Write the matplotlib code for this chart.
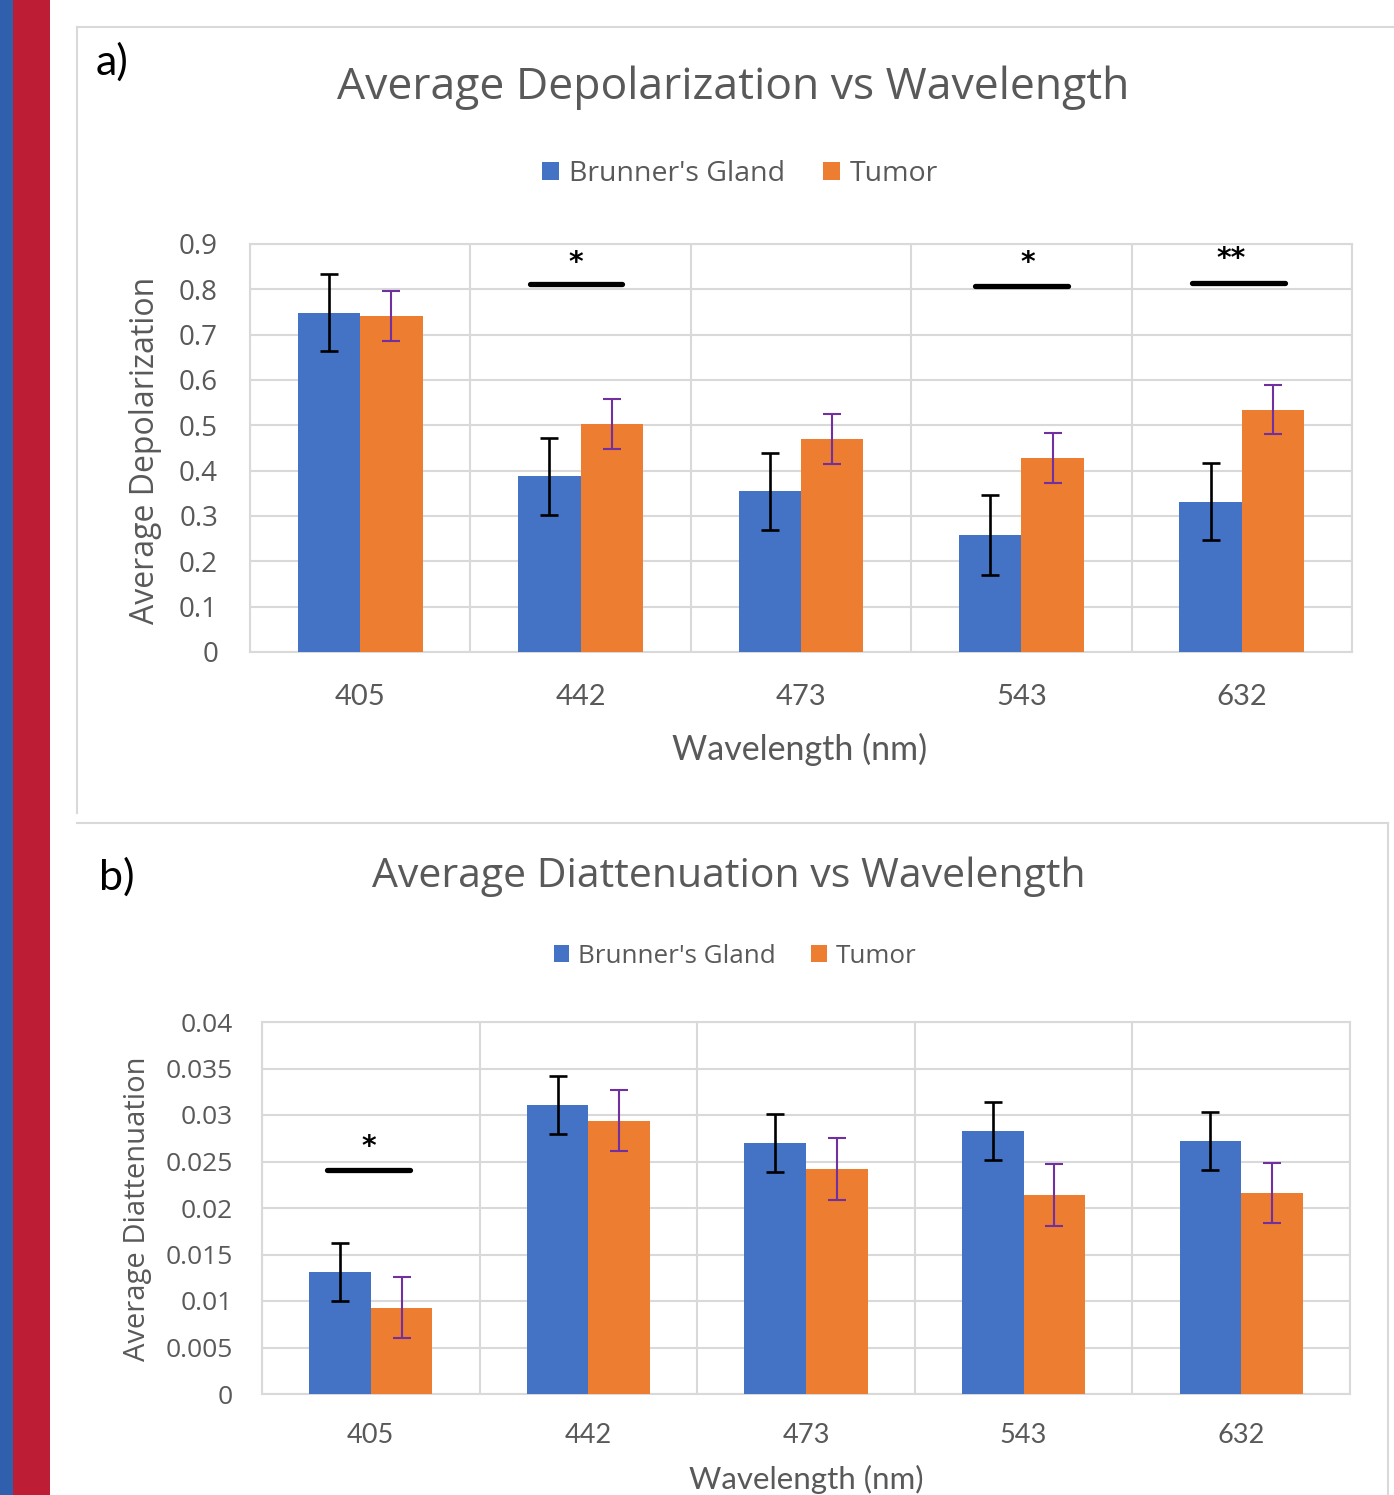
import matplotlib
matplotlib.use("Agg")
import matplotlib.pyplot as plt
import numpy as np
from matplotlib.patches import Rectangle, Patch
from matplotlib.lines import Line2D
from matplotlib.textpath import TextPath
from matplotlib.font_manager import FontProperties
from matplotlib.transforms import ScaledTranslation

# ---------------- data ----------------
wavelengths = ['405', '442', '473', '543', '632']
series_names = ["Brunner's Gland", "Tumor"]

depol_gland = [0.748, 0.388, 0.355, 0.258, 0.331]
depol_gland_err = [0.085, 0.085, 0.085, 0.088, 0.085]
depol_tumor = [0.741, 0.503, 0.470, 0.428, 0.534]
depol_tumor_err = [0.055, 0.055, 0.056, 0.055, 0.054]

diatt_gland = [0.0131, 0.0311, 0.0270, 0.0283, 0.0272]
diatt_gland_err = [0.0031, 0.0031, 0.0031, 0.0031, 0.0031]
diatt_tumor = [0.0093, 0.0294, 0.0242, 0.0214, 0.0216]
diatt_tumor_err = [0.0033, 0.0033, 0.0033, 0.0033, 0.0032]

# significance markers: bracket centre (category units), bracket height, label, label height
depol_sig_x = [0.98, 3.0, 3.985]
depol_sig_y = [0.812, 0.807, 0.814]
depol_sig_labels = ['*', '*', '**']
depol_star_x = [0.98, 3.03, 3.95]
depol_star_y = [0.871, 0.871, 0.880]

diatt_sig_x = [-0.01]
diatt_sig_y = [0.0241]
diatt_sig_labels = ['*']
diatt_star_x = [-0.01]
diatt_star_y = [0.0272]

depol_yticks = [0, 0.1, 0.2, 0.3, 0.4, 0.5, 0.6, 0.7, 0.8, 0.9]
depol_yticklabels = ['0', '0.1', '0.2', '0.3', '0.4', '0.5', '0.6', '0.7', '0.8', '0.9']
diatt_yticks = [0, 0.005, 0.01, 0.015, 0.02, 0.025, 0.03, 0.035, 0.04]
diatt_yticklabels = ['0', '0.005', '0.01', '0.015', '0.02', '0.025', '0.03', '0.035', '0.04']

# ---------------- style ----------------
W, H = 1394, 1495
BLUE = '#4472C4'
ORANGE = '#ED7D31'
PURPLE = '#7030A0'
GREY_TXT = '#595959'
GRID = '#D9D9D9'
plt.rcParams['font.family'] = ['Open Sans', 'DejaVu Sans']
STAR_FONT = FontProperties(family='DejaVu Sans', weight='bold')


def fx(x):
    return x / W


def fy(y):
    return 1 - y / H


fig = plt.figure(figsize=(W / 100, H / 100), dpi=100)
fig.patch.set_facecolor('white')

# left decorative stripes
fig.add_artist(Rectangle((0, 0), fx(13), 1, transform=fig.transFigure,
                         facecolor='#2F5FAD', edgecolor='none'))
fig.add_artist(Rectangle((fx(13), 0), fx(50) - fx(13), 1, transform=fig.transFigure,
                         facecolor='#BE1E35', edgecolor='none'))

# panel frames
frame_kw = dict(transform=fig.transFigure, color='#D9D9D9', lw=1.5)
fig.add_artist(Line2D([fx(77), fx(1394)], [fy(27), fy(27)], **frame_kw))
fig.add_artist(Line2D([fx(77), fx(77)], [fy(27), fy(813)], **frame_kw))
fig.add_artist(Line2D([fx(77), fx(1388)], [fy(823), fy(823)], **frame_kw))
fig.add_artist(Line2D([fx(1388), fx(1388)], [fy(823), fy(1495)], **frame_kw))


def star_text(ax, x, y, label, glyph_px=13):
    # size the asterisk so its glyph is glyph_px tall and centre it on (x, y)
    tp = TextPath((0, 0), '*', size=1, prop=STAR_FONT)
    ext = tp.get_extents()
    h_frac = ext.height
    fs = glyph_px * 72 / 100 / h_frac
    centre_pt = (ext.y0 + ext.height / 2) * fs
    tr = ax.transData + ScaledTranslation(0, -centre_pt / 72, fig.dpi_scale_trans)
    ax.text(x, y, label, transform=tr, ha='center', va='baseline', fontsize=fs,
            fontproperties=STAR_FONT, color='black', zorder=6)


def draw_panel(rect, gland, gerr, tumor, terr, yticks, yticklabels, ylim,
               sig_x, sig_y, sig_labels, star_x, star_y, sig_half,
               ytick_fs, xtick_fs, ypad, xpad):
    ax = fig.add_axes(rect)
    x = np.arange(len(wavelengths))
    w = 0.283
    ax.bar(x - w / 2, gland, w, color=BLUE, zorder=3)
    ax.bar(x + w / 2, tumor, w, color=ORANGE, zorder=3)
    ax.errorbar(x - w / 2, gland, yerr=gerr, fmt='none', ecolor='black',
                elinewidth=1.9, capsize=6.2, capthick=1.9, zorder=4)
    ax.errorbar(x + w / 2, tumor, yerr=terr, fmt='none', ecolor=PURPLE,
                elinewidth=1.5, capsize=6.2, capthick=1.5, zorder=4)
    for sx, sy, lab, tx, ty in zip(sig_x, sig_y, sig_labels, star_x, star_y):
        ax.plot([sx - sig_half, sx + sig_half], [sy, sy], color='black', lw=3.8,
                solid_capstyle='round', zorder=5)
        star_text(ax, tx, ty, lab)
    ax.set_xlim(-0.5, len(wavelengths) - 0.5)
    ax.set_ylim(*ylim)
    ax.set_yticks(yticks)
    ax.set_yticklabels(yticklabels)
    ax.set_xticks(x)
    ax.set_xticklabels(wavelengths, fontfamily=['Lato', 'DejaVu Sans'])
    ax.set_xticks(np.arange(len(wavelengths) + 1) - 0.5, minor=True)
    ax.tick_params(axis='both', which='both', length=0)
    ax.tick_params(axis='y', labelsize=ytick_fs, labelcolor=GREY_TXT, pad=ypad)
    ax.tick_params(axis='x', labelsize=xtick_fs, labelcolor=GREY_TXT, pad=xpad)
    ax.grid(axis='y', which='major', color=GRID, lw=1.5, zorder=0)
    ax.grid(axis='x', which='minor', color=GRID, lw=1.5, zorder=0)
    ax.grid(axis='x', which='major', visible=False)
    for s in ax.spines.values():
        s.set_color(GRID)
        s.set_linewidth(1.5)
    return ax


# ---------------- panel a ----------------
draw_panel([fx(250), fy(652), fx(1352) - fx(250), fy(244) - fy(652)],
           depol_gland, depol_gland_err, depol_tumor, depol_tumor_err,
           depol_yticks, depol_yticklabels, (0, 0.9),
           depol_sig_x, depol_sig_y, depol_sig_labels, depol_star_x, depol_star_y, 0.21,
           20, 21, 23, 23)

fig.text(fx(112), fy(62), 'a)', fontsize=31, color='black', ha='center', va='center',
         fontfamily=['Lato', 'DejaVu Sans'])
fig.text(fx(733), fy(88), 'Average Depolarization vs Wavelength', fontsize=32,
         color=GREY_TXT, ha='center', va='center')
fig.text(fx(145), fy(450), 'Average Depolarization', fontsize=23, color=GREY_TXT,
         ha='center', va='center', rotation=90)
fig.text(fx(800), fy(749), 'Wavelength (nm)', fontsize=24.5, color=GREY_TXT,
         ha='center', va='center', fontfamily=['Lato', 'DejaVu Sans'])

handles = [Patch(facecolor=BLUE, edgecolor='none'), Patch(facecolor=ORANGE, edgecolor='none')]
fig.legend(handles, series_names, loc='center', bbox_to_anchor=(fx(740), fy(174)),
           ncol=2, frameon=False, fontsize=20.5, labelcolor=GREY_TXT,
           handlelength=0.6, handleheight=0.6, handletextpad=0.35, columnspacing=1.35)

# ---------------- panel b ----------------
draw_panel([fx(262), fy(1394), fx(1350) - fx(262), fy(1022) - fy(1394)],
           diatt_gland, diatt_gland_err, diatt_tumor, diatt_tumor_err,
           diatt_yticks, diatt_yticklabels, (0, 0.04),
           diatt_sig_x, diatt_sig_y, diatt_sig_labels, diatt_star_x, diatt_star_y, 0.19,
           19, 19.5, 21, 21)

fig.text(fx(117), fy(877), 'b)', fontsize=31, color='black', ha='center', va='center',
         fontfamily=['Lato', 'DejaVu Sans'])
fig.text(fx(729), fy(877), 'Average Diattenuation vs Wavelength', fontsize=29.5,
         color=GREY_TXT, ha='center', va='center')
fig.text(fx(137), fy(1209), 'Average Diattenuation', fontsize=21, color=GREY_TXT,
         ha='center', va='center', rotation=90)
fig.text(fx(806), fy(1479), 'Wavelength (nm)', fontsize=22.5, color=GREY_TXT,
         ha='center', va='center', fontfamily=['Lato', 'DejaVu Sans'])

fig.legend(handles, series_names, loc='center', bbox_to_anchor=(fx(735), fy(956)),
           ncol=2, frameon=False, fontsize=18.7, labelcolor=GREY_TXT,
           handlelength=0.6, handleheight=0.6, handletextpad=0.35, columnspacing=1.35)

fig.savefig('out.png', dpi=100, facecolor='white')
